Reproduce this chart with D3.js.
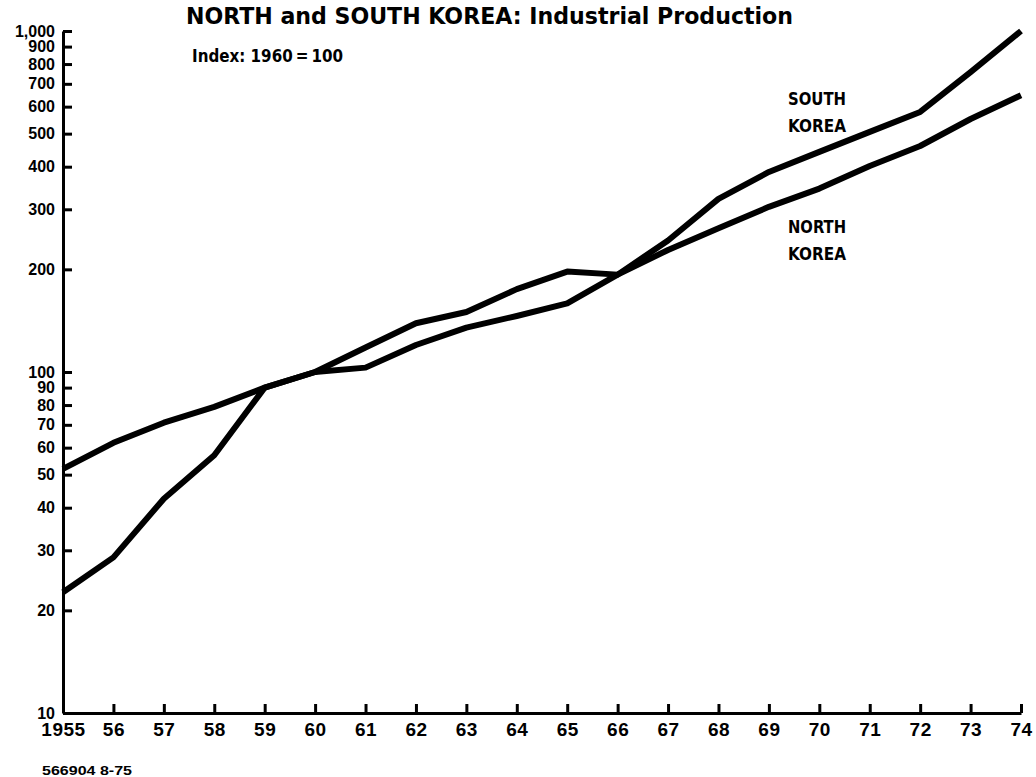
<!DOCTYPE html>
<html>
<head>
<meta charset="utf-8">
<script src="https://cdnjs.cloudflare.com/ajax/libs/d3/7.8.5/d3.min.js"></script>
<style>
  body { margin: 0; background: #fff; }
  .cond { font-family: "DejaVu Sans Condensed", "DejaVu Sans", sans-serif; font-stretch: condensed; font-weight: bold; }
  .tick text { font-family: "Liberation Sans", Arial, sans-serif; font-weight: bold; fill: #000; }
</style>
</head>
<body>
<div class="mainContainer"></div>
<script>
// Industrial production index, 1960 = 100
const years = [1955, 1956, 1957, 1958, 1959, 1960, 1961, 1962, 1963, 1964,
               1965, 1966, 1967, 1968, 1969, 1970, 1971, 1972, 1973, 1974];
const northKorea = [22.6, 28.6, 42.5, 57, 90, 100, 118, 139, 150, 175,
                    197, 193, 228, 264, 305, 345, 402, 460, 552, 648];
const southKorea = [52, 62, 71, 79, 90, 100, 103, 120, 135, 146,
                    159, 193, 243, 322, 386, 442, 506, 579, 758, 1000];
const yTicks = [10, 20, 30, 40, 50, 60, 70, 80, 90, 100, 200, 300, 400, 500, 600, 700, 800, 900, 1000];
const xTickLabels = ['1955', '56', '57', '58', '59', '60', '61', '62', '63', '64',
                     '65', '66', '67', '68', '69', '70', '71', '72', '73', '74'];

let width = 1036;
let height = 777;

const svg = d3.select('.mainContainer')
  .append('svg')
  .attr('width', width)
  .attr('height', height);

const x = d3.scaleLinear().domain([1955, 1974]).range([63, 1021]);
const y = d3.scaleLog().domain([10, 1000]).range([713, 31]);

// y axis, ticks pointing inward
const yAxis = svg.append('g')
  .attr('transform', 'translate(63,0)')
  .call(d3.axisLeft(y)
    .tickValues(yTicks)
    .tickFormat(d3.format(','))
    .tickSizeInner(-9)
    .tickSizeOuter(0)
    .tickPadding(8));
yAxis.selectAll('.tick text').style('font-size', '16px');

// x axis
const xAxis = svg.append('g')
  .attr('transform', 'translate(0,713)')
  .call(d3.axisBottom(x)
    .tickValues(years)
    .tickFormat((d, i) => xTickLabels[i])
    .tickSizeInner(-9)
    .tickSizeOuter(0)
    .tickPadding(10));
xAxis.selectAll('.tick text').style('font-size', '19px').style('letter-spacing', '0.5px');

svg.selectAll('.domain').attr('stroke', '#000').attr('stroke-width', 3);
svg.selectAll('.tick line').attr('stroke', '#000').attr('stroke-width', 3);

// lines
const line = d3.line()
  .x((d, i) => x(years[i]))
  .y((d) => y(d));

[northKorea, southKorea].forEach((series) => {
  svg.append('path')
    .attr('d', line(series))
    .attr('fill', 'none')
    .attr('stroke', '#000')
    .attr('stroke-width', 6)
    .attr('stroke-linejoin', 'round')
    .attr('stroke-linecap', 'butt');
});

// title and subtitle
svg.append('text').attr('class', 'cond')
  .attr('x', 186).attr('y', 24)
  .attr('textLength', 607).attr('lengthAdjust', 'spacingAndGlyphs')
  .style('font-size', '23px')
  .text('NORTH and SOUTH KOREA: Industrial Production');

svg.append('text').attr('class', 'cond')
  .attr('x', 192).attr('y', 62)
  .attr('textLength', 151).attr('lengthAdjust', 'spacingAndGlyphs')
  .style('font-size', '17px')
  .text('Index: 1960\u2009=\u2009100');

// series labels
const labels = [
  {lines: ['SOUTH', 'KOREA'], y: 105},
  {lines: ['NORTH', 'KOREA'], y: 233}
];
labels.forEach((l) => {
  l.lines.forEach((t, i) => {
    svg.append('text').attr('class', 'cond')
      .attr('x', 788).attr('y', l.y + i * 26.5)
      .attr('textLength', 58).attr('lengthAdjust', 'spacingAndGlyphs')
      .style('font-size', '17px')
      .text(t);
  });
});

// footnote
svg.append('text')
  .attr('x', 42).attr('y', 775)
  .attr('textLength', 90).attr('lengthAdjust', 'spacingAndGlyphs')
  .style('font-family', '"Liberation Sans", Arial, sans-serif')
  .style('font-weight', 'bold')
  .style('font-size', '13px')
  .text('566904 8-75');
</script>
</body>
</html>
